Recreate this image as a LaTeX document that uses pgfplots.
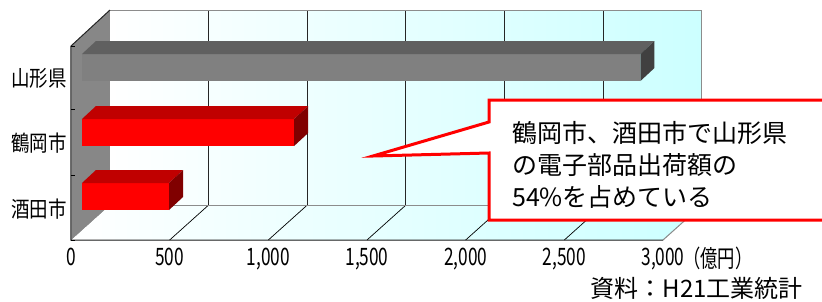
\documentclass[border=0pt]{standalone}
\usepackage{fontspec}
\usepackage{pgfplots}
\pgfplotsset{compat=1.18}
\setmainfont{Noto Sans CJK JP}
\newfontfamily\numf[FakeStretch=0.72]{Noto Sans CJK JP}
\newfontfamily\catf[FakeStretch=0.84]{Noto Sans CJK JP}
\definecolor{wallc}{HTML}{CCFFFF}
\definecolor{sidewall}{HTML}{878787}
\definecolor{gfront}{HTML}{808080}
\definecolor{gtop}{HTML}{606060}
\definecolor{gside}{HTML}{404040}
\definecolor{rfront}{HTML}{FF0000}
\definecolor{rtop}{HTML}{C00000}
\definecolor{rside}{HTML}{800000}
\definecolor{edgegray}{HTML}{8C8C8C}

% 3D bar: #1 value, #2 lower y of front face, #3 front, #4 top, #5 side colour
\newcommand\barthreeD[5]{%
  \pgfmathsetmacro\xa{55.7}%
  \pgfmathsetmacro\xb{55.7+#1}%
  \pgfmathsetmacro\xc{55.7+#1+71}%
  \pgfmathsetmacro\xd{55.7+71}%
  \pgfmathsetmacro\ya{#2}%
  \pgfmathsetmacro\yb{#2+27}%
  \pgfmathsetmacro\yc{#2+27+13}%
  \pgfmathsetmacro\yd{#2+13}%
  \edef\temp{%
    \noexpand\addplot[fill=#3, draw=none] coordinates {(\xa,\ya) (\xb,\ya) (\xb,\yb) (\xa,\yb)} --cycle;
    \noexpand\addplot[fill=#4, draw=none] coordinates {(\xa,\yb) (\xb,\yb) (\xc,\yc) (\xd,\yc)} --cycle;
    \noexpand\addplot[fill=#5, draw=none] coordinates {(\xb,\ya) (\xc,\yd) (\xc,\yc) (\xb,\yb)} --cycle;
  }\temp
}

\begin{document}
\begin{tikzpicture}
\path[use as bounding box] (-71pt,-61pt) rectangle (751pt,240pt);
\begin{axis}[
  at={(0pt,0pt)}, anchor=origin,
  scale only axis, width=592pt, height=194pt,
  xmin=0, xmax=3000, ymin=0, ymax=194,
  clip=false, axis on top,
  axis line style={draw=none},
  tick pos=left,
  xtick={0,500,1000,1500,2000,2500,3000},
  xtick style={draw=none},
  xticklabel style={font=\numf\fontsize{24}{24}\selectfont, inner sep=0pt, anchor=north, yshift=-8pt},
  /pgf/number format/.cd, 1000 sep={,}, assume math mode=true, /pgfplots/.cd,
  ytick={31,97,162},
  yticklabels={酒田市,鶴岡市,山形県},
  major tick length=0pt,
  minor ytick={0,65,131,194},
  minor tick length=4pt,
  minor tick style={black, line width=0.8pt},
  tick align=inside,
  yticklabel style={font=\catf\fontsize{22}{22}\selectfont, inner sep=0pt, anchor=east, xshift=-4pt},
]
% back wall
\fill[left color=white, right color=wallc] (axis cs:197.6,35) rectangle (axis cs:3197.6,230);
% floor
\fill[left color=white, right color=wallc] (axis cs:0,0) -- (axis cs:3000,0) -- (axis cs:3197.6,35) -- (axis cs:197.6,35) -- cycle;
% side wall
\fill[sidewall] (axis cs:0,0) -- (axis cs:197.6,35) -- (axis cs:197.6,230) -- (axis cs:0,194) -- cycle;
% grid on back wall
\draw[black!85, line width=1pt] (axis cs:697.6,35) -- (axis cs:697.6,230);
\draw[black!85, line width=1pt] (axis cs:1197.6,35) -- (axis cs:1197.6,230);
\draw[black!85, line width=1pt] (axis cs:1697.6,35) -- (axis cs:1697.6,230);
\draw[black!85, line width=1pt] (axis cs:2197.6,35) -- (axis cs:2197.6,230);
\draw[black!85, line width=1pt] (axis cs:2697.6,35) -- (axis cs:2697.6,230);
% floor diagonals
\draw[black, line width=0.7pt] (axis cs:500,0) -- (axis cs:697.6,35);
\draw[black, line width=0.7pt] (axis cs:1000,0) -- (axis cs:1197.6,35);
\draw[black, line width=0.7pt] (axis cs:1500,0) -- (axis cs:1697.6,35);
\draw[black, line width=0.7pt] (axis cs:2000,0) -- (axis cs:2197.6,35);
\draw[black, line width=0.7pt] (axis cs:2500,0) -- (axis cs:2697.6,35);
% wall edges
\draw[edgegray, line width=1pt] (axis cs:197.6,230) -- (axis cs:3197.6,230) -- (axis cs:3197.6,35) -- (axis cs:197.6,35);
\draw[edgegray, line width=1pt] (axis cs:3000,0) -- (axis cs:3197.6,35);
\draw[black!85, line width=1pt] (axis cs:3000,0) -- (axis cs:0,0) -- (axis cs:0,194) -- (axis cs:197.6,230);
% bars
\barthreeD{2830}{159}{gfront}{gtop}{gside}
\barthreeD{1075}{94}{rfront}{rtop}{rside}
\barthreeD{441}{30}{rfront}{rtop}{rside}
\end{axis}
% unit and source
\node[anchor=west, inner sep=0pt, font=\numf\fontsize{24}{24}\selectfont] at (612pt,-18pt) {（億円）};
\node[anchor=east, inner sep=0pt, font=\fontsize{24}{24}\selectfont] at (732pt,-48pt) {資料：H21工業統計};
% callout
\draw[red, line width=3pt, fill=white, line join=miter] (418pt,140pt) -- (418pt,118pt) -- (302pt,84pt) -- (418pt,87pt) -- (418pt,20pt) -- (770pt,20pt) -- (770pt,140pt) -- cycle;
\node[anchor=north west, align=left, inner sep=0pt, font=\fontsize{25}{32}\selectfont] at (441pt,119pt) {鶴岡市、酒田市で山形県\\の電子部品出荷額の\\54\%を占めている};
\end{tikzpicture}
\end{document}
